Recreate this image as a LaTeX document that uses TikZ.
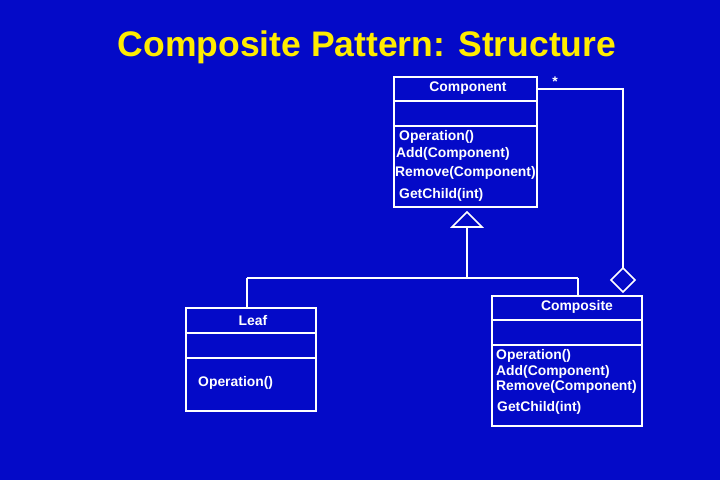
\documentclass[tikz,border=0pt]{standalone}
\usepackage{fontspec}
\setmainfont{Liberation Sans}
\definecolor{bg}{RGB}{4,10,200}
\definecolor{ttl}{RGB}{255,236,0}
\begin{document}
\begin{tikzpicture}[x=1pt,y=-1pt,
  ln/.style={draw=white,line width=1.6pt},
  txt/.style={text=white,font=\bfseries\fontsize{13.9}{15}\selectfont,inner sep=0pt,anchor=west}]
\fill[bg] (0,0) rectangle (720,480);
\useasboundingbox (0,0) rectangle (720,480);
\node[text=ttl,font=\bfseries\fontsize{35.5}{38}\selectfont] (title) at (367,47) {Composite Pattern: Structure};
% Component
\draw[ln] (394,77) rectangle (537,207);
\draw[ln] (394,101) -- (537,101);
\draw[ln] (394,126) -- (537,126);
\node[txt,anchor=center] (cn) at (468,88) {Component};
\node[txt] (c1) at (399,137) {Operation()};
\node[txt] (c2) at (396,154) {Add(Component)};
\node[txt] (c3) at (395,173) {Remove(Component)};
\node[txt] (c4) at (399,195) {GetChild(int)};
% Leaf
\draw[ln] (186,308) rectangle (316,411);
\draw[ln] (186,333) -- (316,333);
\draw[ln] (186,358) -- (316,358);
\node[txt,anchor=center] (ln) at (253,321) {Leaf};
\node[txt] (l1) at (198,383) {Operation()};
% Composite
\draw[ln] (492,296) rectangle (642,426);
\draw[ln] (492,320) -- (642,320);
\draw[ln] (492,345) -- (642,345);
\node[txt,anchor=center] (kn) at (577,307) {Composite};
\node[txt] (k1) at (496,356) {Operation()};
\node[txt] (k2) at (496,372) {Add(Component)};
\node[txt] (k3) at (496,387) {Remove(Component)};
\node[txt] (k4) at (497,408) {GetChild(int)};
% inheritance
\draw[ln] (467,212) -- (482,227) -- (452,227) -- cycle;
\draw[ln] (467,227) -- (467,278);
\draw[ln] (247,278) -- (578,278);
\draw[ln] (247,278) -- (247,308);
\draw[ln] (578,278) -- (578,296);
% aggregation
\draw[ln] (537,89) -- (623,89) -- (623,268);
\draw[ln] (623,268) -- (635,280) -- (623,292) -- (611,280) -- cycle;
\node[txt,anchor=center] (star) at (555,82) {*};
\end{tikzpicture}
\end{document}
